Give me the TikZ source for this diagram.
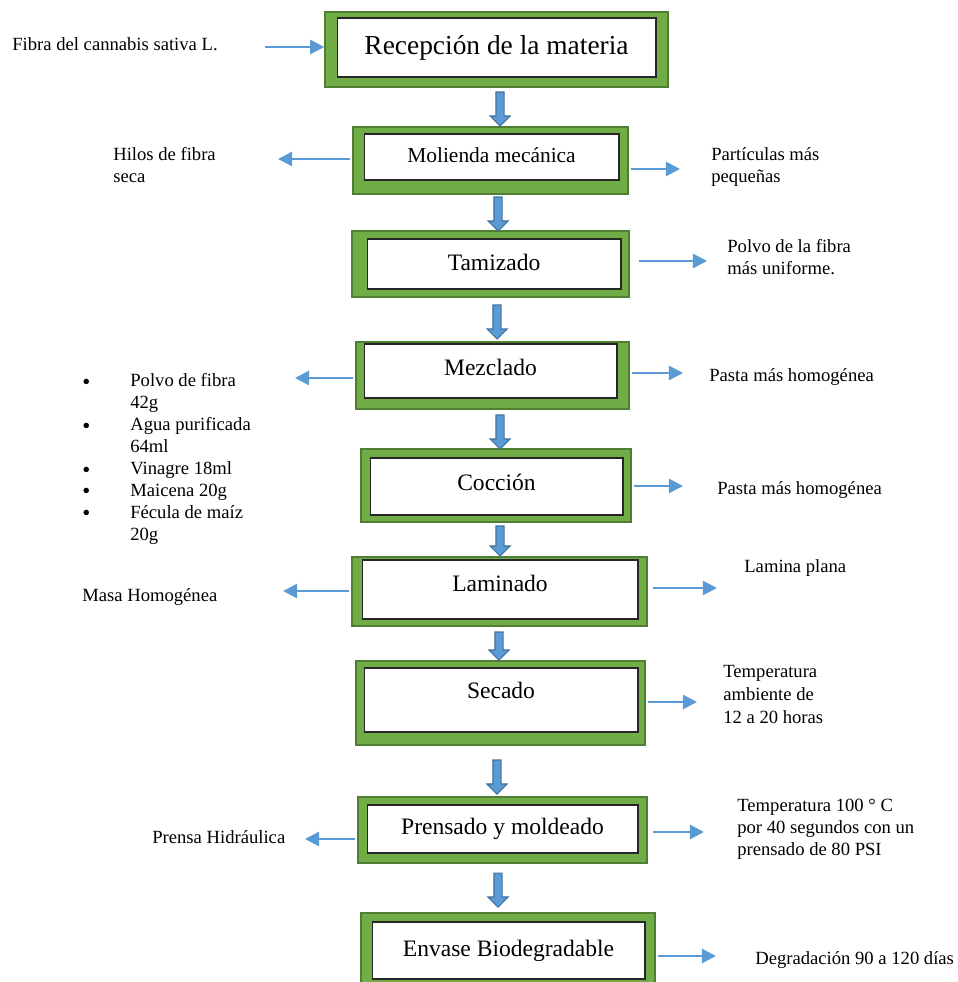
\documentclass[tikz,border=0pt]{standalone}
\usepackage{fontspec}
\setmainfont{Liberation Serif}
\usetikzlibrary{shapes.arrows, arrows.meta}
\definecolor{boxgreen}{HTML}{70AD47}
\definecolor{boxedge}{HTML}{507E32}
\definecolor{flowblue}{HTML}{5B9BD5}
\definecolor{flowedge}{HTML}{41719C}
\tikzstyle{frame} = [rectangle, draw=boxedge, fill=boxgreen, line width=0.9pt, inner sep=0pt]
\tikzstyle{stepbox} = [rectangle, draw=black!85, fill=white, line width=0.6pt, inner sep=0pt, text centered, font=\fontsize{13.4}{16}\selectfont]
\tikzstyle{blockdown} = [single arrow, shape border rotate=270, draw=flowedge, fill=flowblue, line width=0.6pt, minimum height=0.68cm, single arrow head extend=0.12cm, inner sep=0.07cm]
\tikzstyle{note} = [inner sep=0pt, align=left, font=\fontsize{10.6}{12.5}\selectfont]
\tikzstyle{arrow} = [line width=1.4pt, flowblue, -{Triangle[length=8pt,width=8pt]}, shorten <=1.1pt]
\newcommand{\dotitem}{\raisebox{-1.4pt}{\fontsize{13}{12}\selectfont\textbullet}}

\begin{document}
\begin{tikzpicture}[x=0.02cm, y=-0.02cm]
\useasboundingbox (0,0) rectangle (957,982);
% process steps
\node (recep-f) [frame, minimum width=6.86cm, minimum height=1.5cm] at (496.5,49.5) {};
\node (recep) [stepbox, minimum width=6.38cm, minimum height=1.18cm, font=\fontsize{15.6}{18}\selectfont] at (496.5,47.5) {Recepción de la materia};
\node (mol-f) [frame, minimum width=5.5cm, minimum height=1.34cm] at (490.5,160.5) {};
\node (mol) [stepbox, minimum width=5.1cm, minimum height=0.92cm, text depth=0.09cm, font=\fontsize{12.2}{14}\selectfont] at (491.5,157) {Molienda mecánica};
\node (tam-f) [frame, minimum width=5.54cm, minimum height=1.32cm] at (490.5,264) {};
\node (tam) [stepbox, minimum width=5.08cm, minimum height=1cm, text depth=0.08cm] at (494,264) {Tamizado};
\node (mez-f) [frame, minimum width=5.46cm, minimum height=1.34cm] at (492.5,375.5) {};
\node (mez) [stepbox, minimum width=5.06cm, minimum height=1.08cm, text depth=0.16cm] at (490.5,371) {Mezclado};
\node (coc-f) [frame, minimum width=5.4cm, minimum height=1.46cm] at (496,485.5) {};
\node (coc) [stepbox, minimum width=5.06cm, minimum height=1.14cm, text depth=0.18cm] at (496.5,486.5) {Cocción};
\node (lam-f) [frame, minimum width=5.9cm, minimum height=1.38cm] at (499.5,591.5) {};
\node (lam) [stepbox, minimum width=5.52cm, minimum height=1.18cm, text depth=0.26cm] at (500,589.5) {Laminado};
\node (sec-f) [frame, minimum width=5.78cm, minimum height=1.68cm] at (500.5,703) {};
\node (sec) [stepbox, minimum width=5.48cm, minimum height=1.28cm, text depth=0.4cm] at (501,700) {Secado};
\node (pre-f) [frame, minimum width=5.78cm, minimum height=1.32cm] at (502.5,830) {};
\node (pre) [stepbox, minimum width=5.42cm, minimum height=0.96cm] at (502.5,829) {Prensado y moldeado};
\node (env-f) [frame, minimum width=5.88cm, minimum height=1.54cm] at (508,951.5) {};
\node (env) [stepbox, minimum width=5.46cm, minimum height=1.14cm] at (508.5,950.5) {Envase Biodegradable};

% block arrows between the steps
\node (a1) [blockdown] at (500,107) {};
\node (a2) [blockdown] at (498,212) {};
\node (a3) [blockdown] at (497,320) {};
\node (a4) [blockdown] at (500,430) {};
\node (a5) [blockdown, minimum height=0.6cm] at (500,539) {};
\node (a6) [blockdown, minimum height=0.56cm] at (499,644) {};
\node (a7) [blockdown] at (497,775) {};
\node (a8) [blockdown] at (498,888) {};

% inputs and outputs
\node (fibra) [note, anchor=base west] at (12,51) {Fibra del cannabis sativa L.};
\node (hilos) [note, anchor=north west] at (113,147) {Hilos de fibra\\seca};
\node (particulas) [note, anchor=north west] at (711,147) {Partículas más\\pequeñas};
\node (polvo) [note, anchor=north west] at (727,239) {Polvo de la fibra\\más uniforme.};
\node (ingr) [note, anchor=north west] at (82,371) {\begin{tabular}{@{}p{0.96cm}@{}l@{}}
\dotitem & Polvo de fibra\\
 & 42g\\
\dotitem & Agua purificada\\
 & 64ml\\
\dotitem & Vinagre 18ml\\
\dotitem & Maicena 20g\\
\dotitem & Fécula de maíz\\
 & 20g
\end{tabular}};
\node (pasta1) [note, anchor=base west] at (709,381) {Pasta más homogénea};
\node (pasta2) [note, anchor=base west] at (717,494) {Pasta más homogénea};
\node (masa) [note, anchor=base west] at (82,601) {Masa Homogénea};
\node (lamina) [note, anchor=base west] at (744,572) {Lamina plana};
\node (temp1) [note, anchor=north west, font=\fontsize{10.6}{13.2}\selectfont] at (723,665) {Temperatura\\ambiente de\\12 a 20 horas};
\node (prensa) [note, anchor=base west] at (152,843) {Prensa Hidráulica};
\node (temp2) [note, anchor=north west] at (737,799) {Temperatura 100 ° C\\por 40 segundos con un\\prensado de 80 PSI};
\node (degr) [note, anchor=base west] at (755,964) {Degradación 90 a 120 días};

% arrow tips
\coordinate (fibra-a) at (263,47);
\coordinate (hilos-a) at (278,159);
\coordinate (particulas-a) at (680,169);
\coordinate (polvo-a) at (707,261);
\coordinate (ingr-a) at (295,378);
\coordinate (pasta1-a) at (683,373);
\coordinate (pasta2-a) at (683,486);
\coordinate (masa-a) at (283,591);
\coordinate (lamina-a) at (717,588);
\coordinate (temp1-a) at (697,702);
\coordinate (prensa-a) at (305,839);
\coordinate (temp2-a) at (704,832);
\coordinate (degr-a) at (716,956);

\draw [arrow] (fibra-a) -- (recep-f.west |- fibra-a);
\draw [arrow] (mol-f.west |- hilos-a) -- (hilos-a);
\draw [arrow] (mol-f.east |- particulas-a) -- (particulas-a);
\draw [arrow] ([xshift=4pt]tam-f.east |- polvo-a) -- (polvo-a);
\draw [arrow] (mez-f.west |- ingr-a) -- (ingr-a);
\draw [arrow] (mez-f.east |- pasta1-a) -- (pasta1-a);
\draw [arrow] (coc-f.east |- pasta2-a) -- (pasta2-a);
\draw [arrow] (lam-f.west |- masa-a) -- (masa-a);
\draw [arrow] ([xshift=2pt]lam-f.east |- lamina-a) -- (lamina-a);
\draw [arrow] (sec-f.east |- temp1-a) -- (temp1-a);
\draw [arrow] (pre-f.west |- prensa-a) -- (prensa-a);
\draw [arrow] ([xshift=2pt]pre-f.east |- temp2-a) -- (temp2-a);
\draw [arrow] (env-f.east |- degr-a) -- (degr-a);
\end{tikzpicture}
\end{document}
